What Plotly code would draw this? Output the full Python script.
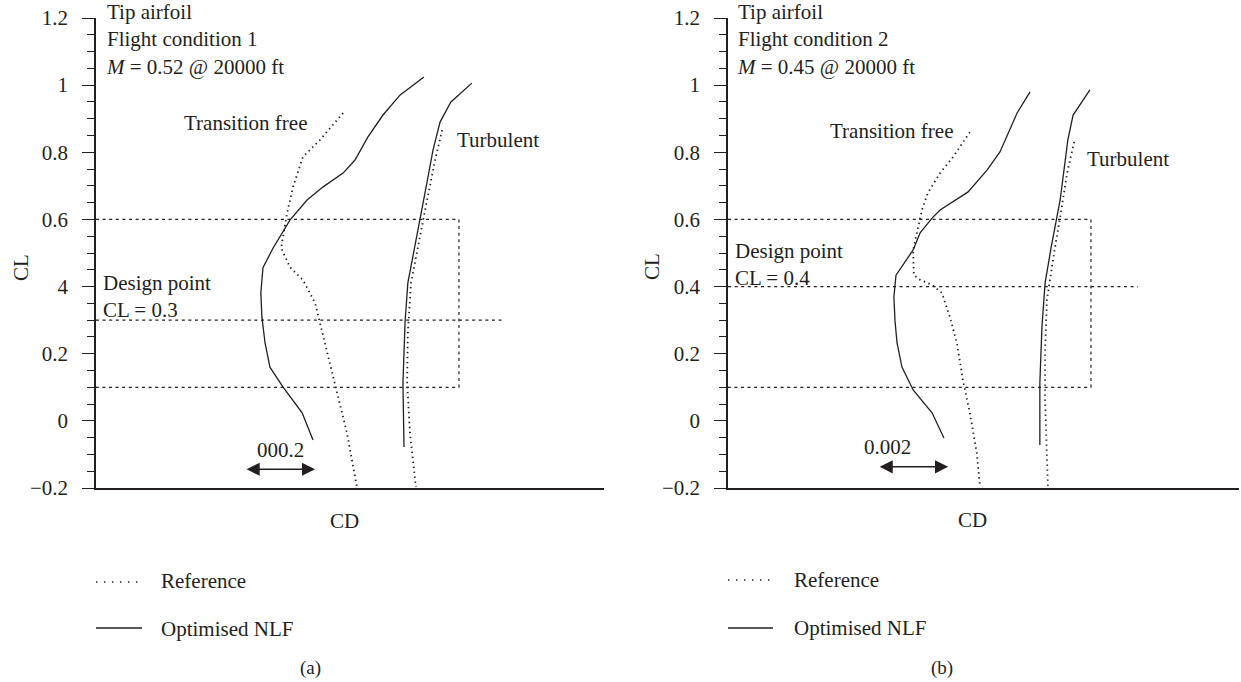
import plotly.graph_objects as go

W, H = 1241, 682
INK = "#231f20"
FONT = "Liberation Serif"

# ---------------- data : panel (a) flight condition 1 ----------------
a_nlf_free_cd = [0.01437, 0.01369, 0.01320, 0.01277, 0.01240, 0.01206, 0.01149, 0.01103, 0.01054,
                 0.01031, 0.01006, 0.00977, 0.00971, 0.00974, 0.00983, 0.00997, 0.01034, 0.01089, 0.01120]
a_nlf_free_cl = [1.024, 0.971, 0.911, 0.846, 0.777, 0.738, 0.697, 0.658, 0.598,
                 0.560, 0.515, 0.456, 0.381, 0.309, 0.232, 0.160, 0.101, 0.024, -0.057]
a_ref_free_cd = [0.01206, 0.01140, 0.01091, 0.01063, 0.01046, 0.01029, 0.01054, 0.01091, 0.01126,
                 0.01140, 0.01169, 0.01189, 0.01217, 0.01246]
a_ref_free_cl = [0.917, 0.837, 0.786, 0.697, 0.619, 0.515, 0.458, 0.420, 0.351,
                 0.291, 0.160, 0.083, -0.036, -0.200]
a_nlf_turb_cd = [0.01574, 0.01514, 0.01483, 0.01463, 0.01440, 0.01411, 0.01391, 0.01383, 0.01377, 0.01380]
a_nlf_turb_cl = [1.006, 0.950, 0.890, 0.807, 0.679, 0.515, 0.411, 0.294, 0.113, -0.078]
a_ref_turb_cd = [0.01489, 0.01469, 0.01446, 0.01420, 0.01400, 0.01391, 0.01389, 0.01397, 0.01414]
a_ref_turb_cl = [0.866, 0.777, 0.658, 0.515, 0.411, 0.262, 0.113, -0.036, -0.197]
a_design_cl = 0.3
a_box_cl = [0.1, 0.6]
a_box_cd = 0.01537
a_design_end_cd = 0.01669
a_scale_cd = [0.00926, 0.01126]
a_scale_cl = -0.144
a_range_cd = [0.005, 0.0195]
a_ticktext = ["\u22120.2", "0", "0.2", "4", "0.6", "0.8", "1", "1.2"]

# ---------------- data : panel (b) flight condition 2 ----------------
b_nlf_free_cd = [0.01363, 0.01326, 0.01277, 0.01240, 0.01186, 0.01106, 0.01083, 0.01049, 0.01029,
                 0.00980, 0.00974, 0.00977, 0.00983, 0.00997, 0.01029, 0.01083, 0.01117]
b_nlf_free_cl = [0.980, 0.917, 0.801, 0.747, 0.682, 0.628, 0.604, 0.560, 0.509,
                 0.434, 0.369, 0.300, 0.232, 0.160, 0.092, 0.024, -0.051]
b_ref_free_cd = [0.01191, 0.01143, 0.01106, 0.01071, 0.01054, 0.01040, 0.01029, 0.01031, 0.01049,
                 0.01083, 0.01111, 0.01134, 0.01154, 0.01171, 0.01191, 0.01211, 0.01220]
b_ref_free_cl = [0.860, 0.786, 0.738, 0.679, 0.628, 0.560, 0.509, 0.434, 0.420,
                 0.405, 0.381, 0.309, 0.232, 0.122, 0.024, -0.096, -0.197]
b_nlf_turb_cd = [0.01534, 0.01486, 0.01471, 0.01449, 0.01423, 0.01406, 0.01397, 0.01391, 0.01391]
b_nlf_turb_cl = [0.986, 0.911, 0.837, 0.658, 0.515, 0.411, 0.280, 0.113, -0.072]
b_ref_turb_cd = [0.01489, 0.01469, 0.01449, 0.01434, 0.01411, 0.01406, 0.01406, 0.01411, 0.01414]
b_ref_turb_cl = [0.831, 0.738, 0.607, 0.515, 0.360, 0.211, 0.062, -0.087, -0.197]
b_design_cl = 0.4
b_box_cl = [0.1, 0.6]
b_box_cd = 0.01537
b_design_end_cd = 0.01671
b_scale_cd = [0.00929, 0.01129]
b_scale_cl = -0.137
b_range_cd = [0.005, 0.0196]
b_ticktext = ["\u22120.2", "0", "0.2", "0.4", "0.6", "0.8", "1", "1.2"]

cl_range = [-0.2, 1.2]
cl_tickvals = [-0.2, 0, 0.2, 0.4, 0.6, 0.8, 1.0, 1.2]

# ---------------- styling ----------------
SOLID = dict(color=INK, width=1.3)
DOTTED = dict(color=INK, width=1.8, dash="1.4px,3.6px")
BOXDASH = dict(color=INK, width=1.2, dash="3px,3.6px")


def px(x):
    return x / W


def py(y):
    return 1 - y / H


fig = go.Figure()


def add_panel(xa, ya, nfc, nfl, rfc, rfl, ntc, ntl, rtc, rtl, dcl, box_cl, box_cd, dend, x0):
    for cd, cl, ln in [(rfc, rfl, DOTTED), (nfc, nfl, SOLID), (rtc, rtl, DOTTED), (ntc, ntl, SOLID)]:
        fig.add_trace(go.Scatter(x=cd, y=cl, mode="lines", line=ln, xaxis=xa, yaxis=ya,
                                 showlegend=False, hoverinfo="skip"))
    fig.add_trace(go.Scatter(x=[x0, box_cd, box_cd, x0], y=[box_cl[1], box_cl[1], box_cl[0], box_cl[0]],
                             mode="lines", line=BOXDASH, xaxis=xa, yaxis=ya, showlegend=False, hoverinfo="skip"))
    fig.add_trace(go.Scatter(x=[x0, dend], y=[dcl, dcl], mode="lines", line=BOXDASH,
                             xaxis=xa, yaxis=ya, showlegend=False, hoverinfo="skip"))


add_panel("x", "y", a_nlf_free_cd, a_nlf_free_cl, a_ref_free_cd, a_ref_free_cl,
          a_nlf_turb_cd, a_nlf_turb_cl, a_ref_turb_cd, a_ref_turb_cl,
          a_design_cl, a_box_cl, a_box_cd, a_design_end_cd, a_range_cd[0])
add_panel("x2", "y2", b_nlf_free_cd, b_nlf_free_cl, b_ref_free_cd, b_ref_free_cl,
          b_nlf_turb_cd, b_nlf_turb_cl, b_ref_turb_cd, b_ref_turb_cl,
          b_design_cl, b_box_cl, b_box_cd, b_design_end_cd, b_range_cd[0])

SCALE = 35000.0  # px per unit CD
a_left, b_left = 96, 728
a_right = a_left + (a_range_cd[1] - a_range_cd[0]) * SCALE
b_right = b_left + (b_range_cd[1] - b_range_cd[0]) * SCALE
y_top, y_bot = 18, 488

xaxis_common = dict(showline=True, linecolor=INK, linewidth=1.5, ticks="", showticklabels=False,
                    showgrid=False, zeroline=False, automargin=False)
yaxis_common = dict(range=cl_range, showline=True, linecolor=INK, linewidth=1.5, ticks="outside",
                    ticklen=12, tickwidth=1.4, tickcolor=INK, tickvals=cl_tickvals,
                    showgrid=False, zeroline=False, ticklabelstandoff=10, automargin=False,
                    tickfont=dict(family=FONT, size=21, color=INK),
                    minor=dict(dtick=0.05, tick0=0, ticks="outside", ticklen=7, tickwidth=1.3, tickcolor=INK))

fig.update_layout(
    width=W, height=H, margin=dict(l=0, r=0, t=0, b=0, pad=0), autosize=False,
    paper_bgcolor="white", plot_bgcolor="white", showlegend=False,
    font=dict(family=FONT, size=21, color=INK),
    xaxis=dict(domain=[px(a_left), px(a_right)], range=a_range_cd, anchor="y", **xaxis_common),
    yaxis=dict(domain=[py(y_bot), py(y_top)], anchor="x", ticktext=a_ticktext, **yaxis_common),
    xaxis2=dict(domain=[px(b_left), px(b_right)], range=b_range_cd, anchor="y2", **xaxis_common),
    yaxis2=dict(domain=[py(y_bot), py(y_top)], anchor="x2", ticktext=b_ticktext, **yaxis_common),
)

ann = []


def text(x, y, s, xanchor="left", size=21, angle=0):
    ann.append(dict(x=px(x), y=py(y), xref="paper", yref="paper", text=s, showarrow=False,
                    xanchor=xanchor, yanchor="middle", textangle=angle, align=xanchor,
                    font=dict(family=FONT, size=size, color=INK)))


# panel (a) texts
text(104, 40, "Tip airfoil<br>Flight condition 1<br><i>M</i> = 0.52 @ 20000 ft")
text(182, 123, "Transition free")
text(455, 140, "Turbulent")
text(101, 296, "Design point<br>CL = 0.3")
text(280, 450, "000.2", xanchor="center")
text(344, 521, "CD", xanchor="center")
text(21, 268, "CL", xanchor="center", angle=-90)
text(159, 581, "Reference")
text(159, 629, "Optimised NLF")
text(310, 668, "(a)", xanchor="center", size=19)

# panel (b) texts
text(735, 40, "Tip airfoil<br>Flight condition 2<br><i>M</i> = 0.45 @ 20000 ft")
text(828, 131, "Transition free")
text(1085, 159, "Turbulent")
text(733, 264, "Design point<br>CL = 0.4")
text(887, 447, "0.002", xanchor="center")
text(972, 520, "CD", xanchor="center")
text(652, 267, "CL", xanchor="center", angle=-90)
text(792, 580, "Reference")
text(792, 628, "Optimised NLF")
text(942, 668, "(b)", xanchor="center", size=19)

# scale arrows (double headed) in data coordinates
for xr, yr, sc, scl in [("x", "y", a_scale_cd, a_scale_cl), ("x2", "y2", b_scale_cd, b_scale_cl)]:
    ann.append(dict(x=sc[1], y=scl, ax=sc[0], ay=scl, xref=xr, yref=yr, axref=xr, ayref=yr,
                    text="", showarrow=True, arrowhead=2, startarrowhead=2, arrowside="end+start",
                    arrowsize=1.75, startarrowsize=1.75, arrowwidth=1.5, arrowcolor=INK))

fig.update_layout(annotations=ann)

# legend samples
shapes = []
for x0, x1, yd, ys in [(96, 142, 582, 628), (728, 773, 580, 628)]:
    shapes.append(dict(type="line", xref="paper", yref="paper", x0=px(x0), x1=px(x1), y0=py(yd), y1=py(yd),
                       line=dict(color=INK, width=1.4, dash="1.4px,6.6px")))
    shapes.append(dict(type="line", xref="paper", yref="paper", x0=px(x0), x1=px(x1), y0=py(ys), y1=py(ys),
                       line=dict(color=INK, width=1.3)))
fig.update_layout(shapes=shapes)

fig.write_html("out.html")
